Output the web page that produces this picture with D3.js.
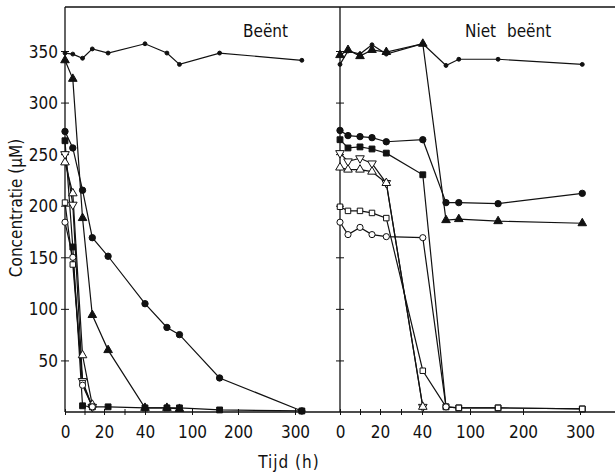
<!DOCTYPE html>
<html>
<head>
<meta charset="utf-8">
<script src="https://cdn.jsdelivr.net/npm/d3@7"></script>
<style>
  body { margin: 0; background: #fff; }
  svg text { font-family: "Liberation Sans Narrow", "DejaVu Sans Condensed", "Liberation Sans", sans-serif; fill: #111; }
</style>
</head>
<body>
<svg id="chart" width="615" height="476"></svg>
<script>
// sampling times (h), read per panel
var tLeft  = [0, 4, 9, 14, 22, 40, 68, 84, 160, 312];
var tRight = [0, 4, 10, 16, 23, 41, 70, 86, 153, 304];

// x axis ticks / labels
var xTicks = [0, 10, 20, 30, 40, 100, 200, 300];
var xLabels = [0, 20, 40, 100, 200, 300];
var yTicks = [50, 100, 150, 200, 250, 300, 350];

// Beent (left panel), values in uM
var leftTop        = [348, 347, 343, 352, 348, 357, 348, 337, 348, 341];
var leftTriFilled  = [341, 323, 188, 94, 60, 4, 4, 3];
var leftCircle     = [272, 256, 215, 169, 151, 105, 82, 75, 33, 1];
var leftSquare     = [263, 160, 6, 5, 5, 4, 4, 4, 2, 1];
var leftTriOpen    = [242, 212, 55, 7];
var leftTriDown    = [250, 201, 30, 5];
var leftSquareOpen = [203, 143, 28, 5];
var leftCircleOpen = [184, 150, 26, 5];

// Niet beent (right panel)
var rightTop        = [337, 350, 347, 356, 347, 357, 336, 342, 342, 337];
var rightTriFilled  = [346, 351, 345, 351, 349, 357, 186, 187, 185, 183];
var rightCircle     = [273, 268, 267, 266, 262, 264, 203, 203, 202, 212];
var rightSquare     = [264, 256, 257, 255, 251, 230, 5, 4, 4, 3];
var rightTriDown    = [251, 243, 246, 241, 222, 5];
var rightTriOpen    = [237, 235, 235, 233, 222, 5];
var rightSquareOpen = [199, 195, 195, 193, 188, 40, 5, 4, 4, 3];
var rightCircleOpen = [184, 172, 179, 172, 170, 169, 5];

var svg = d3.select('#chart');
var yTop = 7, yBottom = 412, xRight = 615;

var y = d3.scaleLinear().domain([0, 350]).range([yBottom, 51]);

// hand drawn, uneven time axis: piecewise linear through the tick marks
var xL = d3.scaleLinear().domain(xLabels).range([65, 104, 145, 192, 238, 295]);
var xR = d3.scaleLinear().domain(xLabels).range([340, 380, 422, 470, 523, 580]);

var markers = {
  small:   { type: d3.symbolCircle,   size: 12, fill: '#111' },
  circle:  { type: d3.symbolCircle,   size: 32, fill: '#111' },
  square:  { type: d3.symbolSquare,   size: 34, fill: '#111' },
  tri:     { type: d3.symbolTriangle, size: 32, fill: '#111' },
  circleO: { type: d3.symbolCircle,   size: 30, fill: '#fff' },
  squareO: { type: d3.symbolSquare,   size: 30, fill: '#fff' },
  triO:    { type: d3.symbolTriangle, size: 32, fill: '#fff' },
  triDO:   { type: d3.symbolTriangle, size: 32, fill: '#fff', rot: 180 }
};

var panels = [
  { x: xL, t: tLeft, series: [
    [leftTop, 'small'], [leftTriFilled, 'tri'], [leftCircle, 'circle'], [leftSquare, 'square'],
    [leftTriOpen, 'triO'], [leftTriDown, 'triDO'], [leftSquareOpen, 'squareO'], [leftCircleOpen, 'circleO']
  ]},
  { x: xR, t: tRight, series: [
    [rightTop, 'small'], [rightTriFilled, 'tri'], [rightCircle, 'circle'], [rightSquare, 'square'],
    [rightTriDown, 'triDO'], [rightTriOpen, 'triO'], [rightSquareOpen, 'squareO'], [rightCircleOpen, 'circleO']
  ]}
];

// frame line on top
svg.append('line').attr('x1', 65).attr('x2', xRight).attr('y1', yTop).attr('y2', yTop)
  .attr('stroke', '#111').attr('stroke-width', 1.6);

// y axes (left one labelled, divider one bare)
function yAxis(xpos, labels){
  var g = svg.append('g').attr('transform', 'translate(' + xpos + ',0)')
    .call(d3.axisLeft(y).tickValues(yTicks).tickSize(4).tickPadding(3)
      .tickFormat(labels ? d3.format('d') : ''));
  g.select('.domain').attr('d', 'M0,' + yTop + 'V' + yBottom)
    .attr('stroke', '#111').attr('stroke-width', 1.3);
  g.selectAll('.tick line').attr('x1', 4).attr('x2', -4).attr('stroke', '#111');
  g.selectAll('.tick text').attr('font-size', 17).attr('dy', '0.36em');
  return g;
}
yAxis(65, true);
yAxis(340, false);

// x axes
panels.forEach(function(p){
  var g = svg.append('g').attr('transform', 'translate(0,' + yBottom + ')')
    .call(d3.axisBottom(p.x).tickValues(xTicks).tickSize(3).tickPadding(11)
      .tickFormat(function(d){ return xLabels.indexOf(d) >= 0 ? d : ''; }));
  g.select('.domain').remove();
  g.selectAll('.tick line').attr('y1', -3).attr('y2', 3).attr('stroke', '#111');
  g.selectAll('.tick text').attr('font-size', 17);
});
svg.append('line').attr('x1', 65).attr('x2', xRight).attr('y1', yBottom).attr('y2', yBottom)
  .attr('stroke', '#111').attr('stroke-width', 1.6);

// series
panels.forEach(function(p){
  var line = d3.line()
    .x(function(d, i){ return p.x(p.t[i]); })
    .y(function(d){ return y(d); });

  p.series.forEach(function(s){
    svg.append('path').datum(s[0])
      .attr('d', line).attr('fill', 'none')
      .attr('stroke', '#111').attr('stroke-width', 1.2);
  });
  p.series.forEach(function(s){
    var m = markers[s[1]];
    var sym = d3.symbol().type(m.type).size(m.size);
    svg.append('g').selectAll('path').data(s[0]).enter().append('path')
      .attr('d', sym)
      .attr('transform', function(d, i){
        return 'translate(' + p.x(p.t[i]) + ',' + y(d) + ')' + (m.rot ? ' rotate(' + m.rot + ')' : '');
      })
      .attr('fill', m.fill).attr('stroke', '#111').attr('stroke-width', 1);
  });
});

// texts
svg.append('text').attr('x', 243).attr('y', 37).attr('font-size', 17).text('Beënt');
svg.append('text').attr('x', 465).attr('y', 37).attr('font-size', 17)
  .attr('word-spacing', 6).text('Niet beënt');
svg.append('text').attr('x', 289).attr('y', 468).attr('font-size', 17)
  .attr('text-anchor', 'middle').attr('letter-spacing', 1).text('Tijd (h)');
svg.append('text').attr('transform', 'translate(22,208) rotate(-90)')
  .attr('font-size', 17).attr('text-anchor', 'middle').text('Concentratie (µM)');
</script>
</body>
</html>
